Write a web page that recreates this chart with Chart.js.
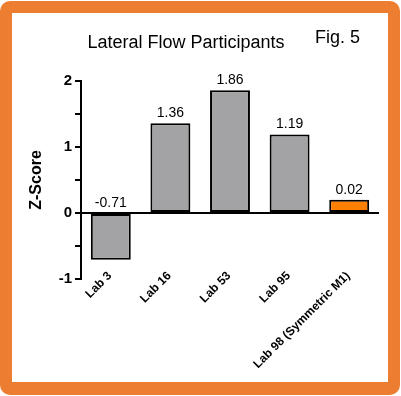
<!DOCTYPE html>
<html>
<head>
<meta charset="utf-8">
<script src="https://cdn.jsdelivr.net/npm/chart.js@4"></script>
<style>
  html, body { margin: 0; padding: 0; background: #fff; }
  #frame {
    position: absolute; left: 0; top: 1px; width: 400px; height: 394px;
    background: #ED7D31; border-radius: 10px;
  }
  #inner {
    position: absolute; left: 12px; top: 12px; width: 376px; height: 369px;
    background: #fff;
  }
  #wrap { position: absolute; left: 0; top: 0; width: 401px; height: 396px; }
</style>
</head>
<body>
<div id="frame"><div id="inner"></div></div>
<div id="wrap"><canvas id="zChart" width="401" height="396"></canvas></div>
<script>
// chart data
const labs = ["Lab 3", "Lab 16", "Lab 53", "Lab 95", "Lab 98 (Symmetric M1)"];
const zScores = [-0.71, 1.36, 1.86, 1.19, 0.2];
const zLabels = ["-0.71", "1.36", "1.86", "1.19", "0.02"];
const barColors = ["#A3A3A6", "#A3A3A6", "#A3A3A6", "#A3A3A6", "#FF8000"];
const yTicks = [-1, 0, 1, 2];

const font = "'Liberation Sans', Arial, sans-serif";

// title, fig number, value labels above the bars and the slanted category names
const textPlugin = {
  id: "texts",
  afterDatasetsDraw(chart) {
    const ctx = chart.ctx;
    const x = chart.scales.x;
    const y = chart.scales.y;
    ctx.save();
    ctx.fillStyle = "#000";
    ctx.textBaseline = "alphabetic";
    ctx.font = "18px " + font;
    ctx.textAlign = "center";
    ctx.fillText("Lateral Flow Participants", 186, 48);
    ctx.textAlign = "left";
    ctx.fillText("Fig. 5", 315, 43);

    ctx.font = "14px " + font;
    ctx.textAlign = "center";
    chart.getDatasetMeta(0).data.forEach((bar, i) => {
      const top = Math.min(bar.y, y.getPixelForValue(0));
      ctx.fillText(zLabels[i], bar.x, top - 6);
    });

    // category names, rotated 45 degrees, hanging just under the -1 line
    ctx.font = "bold 12px " + font;
    ctx.textAlign = "right";
    ctx.textBaseline = "middle";
    labs.forEach((lab, i) => {
      ctx.save();
      ctx.translate(x.getPixelForValue(i) - 1, y.getPixelForValue(-1) - 5);
      ctx.rotate(-Math.PI / 4);
      ctx.fillText(lab, 0, 0);
      ctx.restore();
    });
    ctx.restore();
  }
};

new Chart(document.getElementById("zChart"), {
  type: "bar",
  data: {
    labels: labs,
    datasets: [{
      data: zScores,
      backgroundColor: barColors,
      borderColor: "#000",
      borderWidth: 2,
      borderSkipped: false,
      barPercentage: 0.67,
      categoryPercentage: 1
    }]
  },
  options: {
    responsive: false,
    animation: false,
    layout: { padding: { left: 0, top: 81, right: 22, bottom: 0 } },
    plugins: {
      legend: { display: false },
      tooltip: { enabled: false }
    },
    scales: {
      x: {
        grid: { display: false },
        border: { display: false },
        ticks: { display: false },
        afterFit(s) { s.height = 396 - 279; }
      },
      y: {
        min: -1,
        max: 2,
        border: { display: true, color: "#000", width: 2 },
        grid: {
          drawOnChartArea: true,
          color: c => (c.tick && c.tick.value === 0 ? "#000" : "rgba(0,0,0,0)"),
          lineWidth: 2,
          tickColor: "#000",
          tickLength: 6,
          tickWidth: 2
        },
        ticks: {
          stepSize: 0.5,
          color: "#000",
          padding: 3,
          font: { family: font, size: 15, weight: "bold" },
          callback: v => (yTicks.includes(v) ? String(v) : "")
        },
        title: {
          display: true,
          text: "Z-Score",
          color: "#000",
          font: { family: font, size: 16, weight: "bold" },
          padding: { top: 27, bottom: 0 }
        },
        afterFit(s) { s.width = 81; }
      }
    }
  },
  plugins: [textPlugin]
});
</script>
</body>
</html>
